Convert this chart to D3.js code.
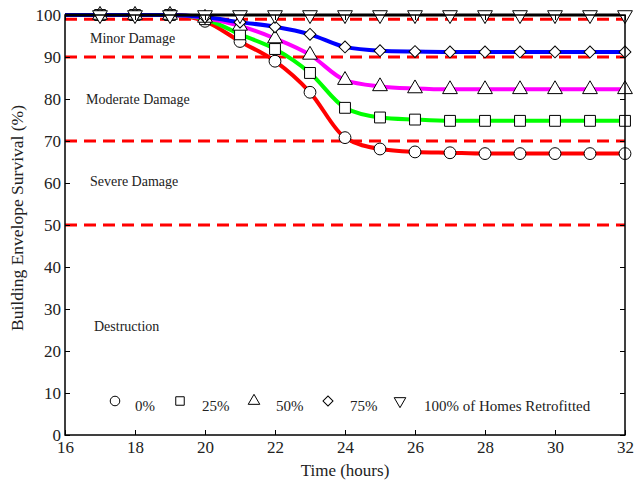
<!DOCTYPE html>
<html lang="en">
<head>
<meta charset="utf-8">
<title>Building Envelope Survival</title>
<script src="https://d3js.org/d3.v7.min.js"></script>
<style>
  body { margin: 0; background: #fff; }
  text { font-family: "Liberation Serif", "Times New Roman", serif; fill: #222; }
</style>
</head>
<body>
<script>
// hours for every series
var hours = [16, 17, 18, 19, 20, 21, 22, 23, 24, 25, 26, 27, 28, 29, 30, 31, 32];

// survival (%)
var retro0   = [100, 100, 100, 100, 98.5, 93.7, 89.0, 81.6, 70.8, 68.1, 67.4, 67.2, 67.0, 67.0, 67.0, 67.0, 67.0];
var retro25  = [100, 100, 100, 100, 99.0, 95.4, 91.9, 86.2, 77.9, 75.6, 75.1, 74.8, 74.8, 74.8, 74.8, 74.8, 74.8];
var retro50  = [100, 100, 100, 100, 99.3, 97.4, 94.4, 90.5, 84.5, 83.0, 82.5, 82.3, 82.3, 82.3, 82.3, 82.3, 82.3];
var retro75  = [100, 100, 100, 100, 99.5, 98.3, 97.2, 95.4, 92.4, 91.5, 91.3, 91.2, 91.2, 91.2, 91.2, 91.2, 91.2];
var retro100 = [100, 100, 100, 100, 100, 100, 100, 100, 100, 100, 100, 100, 100, 100, 100, 100, 100];

var seriesNames = ["0%", "25%", "50%", "75%", "100% of Homes Retrofitted"];
var thresholds = [99, 90, 70, 50];
var zoneLabels = ["Minor Damage", "Moderate Damage", "Severe Damage", "Destruction"];
var zoneLabelY = [94.5, 80, 60.5, 26];
var xTicks = [16, 18, 20, 22, 24, 26, 28, 30, 32];
var yTicks = [0, 10, 20, 30, 40, 50, 60, 70, 80, 90, 100];

var series = [
  { name: seriesNames[0], values: retro0,   color: "#ff0000", symbol: "circle" },
  { name: seriesNames[1], values: retro25,  color: "#00ff00", symbol: "square" },
  { name: seriesNames[2], values: retro50,  color: "#ff00ff", symbol: "up" },
  { name: seriesNames[3], values: retro75,  color: "#0000ff", symbol: "diamond" },
  { name: seriesNames[4], values: retro100, color: "#000000", symbol: "down" }
];

var W = 634, H = 482;
var pLeft = 65, pRight = 625, pTop = 15, pBottom = 435;

var svg = d3.select("body").append("svg")
  .attr("width", W)
  .attr("height", H);

var x = d3.scaleLinear().domain([16, 32]).range([pLeft, pRight]);
var y = d3.scaleLinear().domain([0, 100]).range([pBottom, pTop]);

// areas: plot markers, then smaller legend markers
var symArea = {
  circle:  [110, 72],
  square:  [118, 72],
  up:      [95, 58],
  down:    [95, 58],
  diamond: [70, 50]
};
function symbolPath(kind, big) {
  var a = symArea[kind][big ? 0 : 1];
  if (kind === "circle") return d3.symbol(d3.symbolCircle, a)();
  if (kind === "up" || kind === "down") return d3.symbol(d3.symbolTriangle, a)();
  return d3.symbol(d3.symbolSquare, a)();
}
function symbolRotate(kind) {
  if (kind === "down") return " rotate(180)";
  if (kind === "diamond") return " rotate(45)";
  return "";
}

// damage thresholds
svg.selectAll(".thr")
  .data(thresholds)
  .enter().append("line")
  .attr("x1", pLeft).attr("x2", pRight)
  .attr("y1", function(d) { return y(d); })
  .attr("y2", function(d) { return y(d); })
  .attr("stroke", "#ff0000")
  .attr("stroke-width", 3)
  .attr("stroke-dasharray", "12,7");

// zone text
svg.selectAll(".zone")
  .data(zoneLabels)
  .enter().append("text")
  .attr("x", function(d, i) { return [90, 86, 90, 94][i]; })
  .attr("y", function(d, i) { return y(zoneLabelY[i]); })
  .attr("dy", "0.35em")
  .style("font-size", "14px")
  .text(function(d) { return d; });

var line = d3.line()
  .x(function(d, i) { return x(hours[i]); })
  .y(function(d) { return y(d); })
  .curve(d3.curveMonotoneX);

svg.selectAll(".series")
  .data(series)
  .enter().append("path")
  .attr("fill", "none")
  .attr("stroke", function(d) { return d.color; })
  .attr("stroke-width", function(d) { return d.symbol === "down" ? 3 : 4; })
  .attr("d", function(d) { return line(d.values); });

// markers at every hour from 17
series.forEach(function(s) {
  svg.append("g").selectAll("path")
    .data(s.values.slice(1))
    .enter().append("path")
    .attr("d", symbolPath(s.symbol, true))
    .attr("transform", function(d, i) {
      return "translate(" + x(hours[i + 1]) + "," + y(d) + ")" + symbolRotate(s.symbol);
    })
    .attr("fill", "#fff")
    .attr("stroke", "#000")
    .attr("stroke-width", 1);
});

// axes, ticks inward
var axB = svg.append("g")
  .attr("transform", "translate(0," + pBottom + ")")
  .call(d3.axisBottom(x).tickValues(xTicks).tickSize(-5).tickSizeOuter(0).tickPadding(6));
var axT = svg.append("g")
  .attr("transform", "translate(0," + pTop + ")")
  .call(d3.axisTop(x).tickValues(xTicks).tickSize(-5).tickSizeOuter(0).tickFormat(""));
var axL = svg.append("g")
  .attr("transform", "translate(" + pLeft + ",0)")
  .call(d3.axisLeft(y).tickValues(yTicks).tickSize(-5).tickSizeOuter(0).tickPadding(4));
var axR = svg.append("g")
  .attr("transform", "translate(" + pRight + ",0)")
  .call(d3.axisRight(y).tickValues(yTicks).tickSize(-5).tickSizeOuter(0).tickFormat(""));

[axB, axT, axL, axR].forEach(function(a) {
  a.select(".domain").remove();
  a.selectAll("line").attr("stroke", "#000");
  a.selectAll("text")
    .style("font-family", "Liberation Serif")
    .style("font-size", "17px")
    .attr("fill", "#222");
});

svg.append("rect")
  .attr("x", pLeft).attr("y", pTop)
  .attr("width", pRight - pLeft).attr("height", pBottom - pTop)
  .attr("fill", "none")
  .attr("stroke", "#000")
  .attr("stroke-width", 1.5);

// axis titles
svg.append("text")
  .attr("x", 345)
  .attr("y", 476)
  .attr("text-anchor", "middle")
  .style("font-size", "17px")
  .text("Time (hours)");

svg.append("text")
  .attr("transform", "translate(23,218) rotate(-90)")
  .attr("text-anchor", "middle")
  .style("font-size", "17.5px")
  .text("Building Envelope Survival (%)");

// legend
var legX = [115, 180, 254, 328, 400];
var legTextX = [135, 202, 276, 350, 424];
var legY = 401;
var leg = svg.append("g").selectAll("g")
  .data(series)
  .enter().append("g")
  .attr("transform", function(d, i) { return "translate(" + legX[i] + "," + legY + ")"; });

leg.append("path")
  .attr("d", function(d) { return symbolPath(d.symbol, false); })
  .attr("transform", function(d) { return symbolRotate(d.symbol).trim(); })
  .attr("fill", "#fff")
  .attr("stroke", "#000")
  .attr("stroke-width", 1);

leg.append("text")
  .attr("x", function(d, i) { return legTextX[i] - legX[i]; })
  .attr("y", 5)
  .attr("dy", "0.35em")
  .style("font-size", "15px")
  .text(function(d) { return d.name; });
</script>
</body>
</html>
